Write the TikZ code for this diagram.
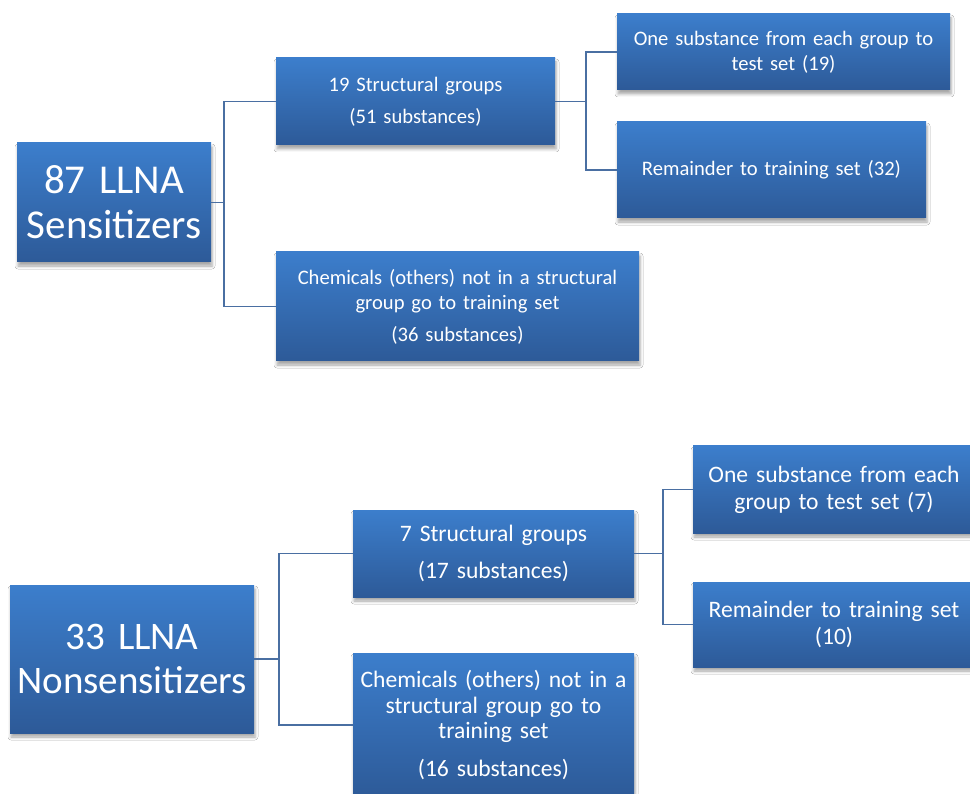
\documentclass[tikz,border=0pt]{standalone}
\usepackage{fontspec}
\setmainfont{Carlito}
\usetikzlibrary{shadows.blur}
\definecolor{boxtop}{RGB}{60,126,204}
\definecolor{boxbot}{RGB}{45,90,152}
\definecolor{linkc}{RGB}{74,111,162}
\tikzset{
  boxnode/.style={inner sep=0pt, text=white, align=center,
    top color=boxtop, bottom color=boxbot, draw=none,
    blur shadow={shadow xshift=1pt, shadow yshift=-4pt,
      shadow blur radius=3pt, shadow opacity=35}},
  link/.style={draw=linkc, line width=1.5pt},
  topsmall/.style={font=\fontsize{20.6}{25}\selectfont},
  botsmall/.style={font=\fontsize{23.6}{27}\selectfont},
}
\newcommand{\boxat}[6]{% name, cx, cy, w, h, style
  \node[boxnode,#6,minimum width=#4pt,minimum height=#5pt,text width=#4pt-10pt] (#1) at (#2,#3)}
\begin{document}
\begin{tikzpicture}[x=1pt,y=-1pt]
\useasboundingbox (0,0) rectangle (970,794);
\clip (0,0) rectangle (970,794);
\fill[white] (0,0) rectangle (970,794);

% upper tree: sensitizers
\boxat{sens}{114}{202.5}{194}{119}{font=\fontsize{41}{45}\selectfont}{87 LLNA\\Sensitizers};
\boxat{sgrp}{415.5}{101.5}{279}{87}{topsmall}{19 Structural groups\\[7pt](51 substances)};
\boxat{soth}{457.5}{306.5}{363}{109}{topsmall}{Chemicals (others) not in a structural\\group go to training set\\[7pt](36 substances)};
\boxat{stst}{783.5}{52}{333}{76}{topsmall}{One substance from each group to\\test set (19)};
\boxat{strn}{771.5}{170}{309}{96}{topsmall}{Remainder to training set (32)};

% lower tree: nonsensitizers
\boxat{nons}{132}{659}{244}{148}{font=\fontsize{39}{44}\selectfont}{33 LLNA\\Nonsensitizers};
\boxat{ngrp}{493.5}{553.5}{281}{87}{botsmall}{7 Structural groups\\[10pt](17 substances)};
\boxat{noth}{493.5}{725}{281}{144}{font=\fontsize{23.6}{25.5}\selectfont}{Chemicals (others) not in a\\structural group go to\\training set\\[12pt](16 substances)};
\boxat{ntst}{834}{489.5}{282}{87}{botsmall}{One substance from each\\group to test set (7)};
\boxat{ntrn}{834}{624.5}{282}{85}{botsmall}{Remainder to training set\\(10)};

% elbow connectors
\coordinate (t1) at (224,0);
\coordinate (t2) at (586,0);
\coordinate (t3) at (279,0);
\coordinate (t4) at (663,0);
\draw[link] (sens.east) -- (sens.east -| t1);
\draw[link] (sgrp.west) -- (sgrp.west -| t1) -- (soth.west -| t1) -- (soth.west);
\draw[link] (sgrp.east) -- (sgrp.east -| t2);
\draw[link] (stst.west) -- (stst.west -| t2) -- (strn.west -| t2) -- (strn.west);
\draw[link] (nons.east) -- (nons.east -| t3);
\draw[link] (ngrp.west) -- (ngrp.west -| t3) -- (noth.west -| t3) -- (noth.west);
\draw[link] (ngrp.east) -- (ngrp.east -| t4);
\draw[link] (ntst.west) -- (ntst.west -| t4) -- (ntrn.west -| t4) -- (ntrn.west);
\end{tikzpicture}
\end{document}
